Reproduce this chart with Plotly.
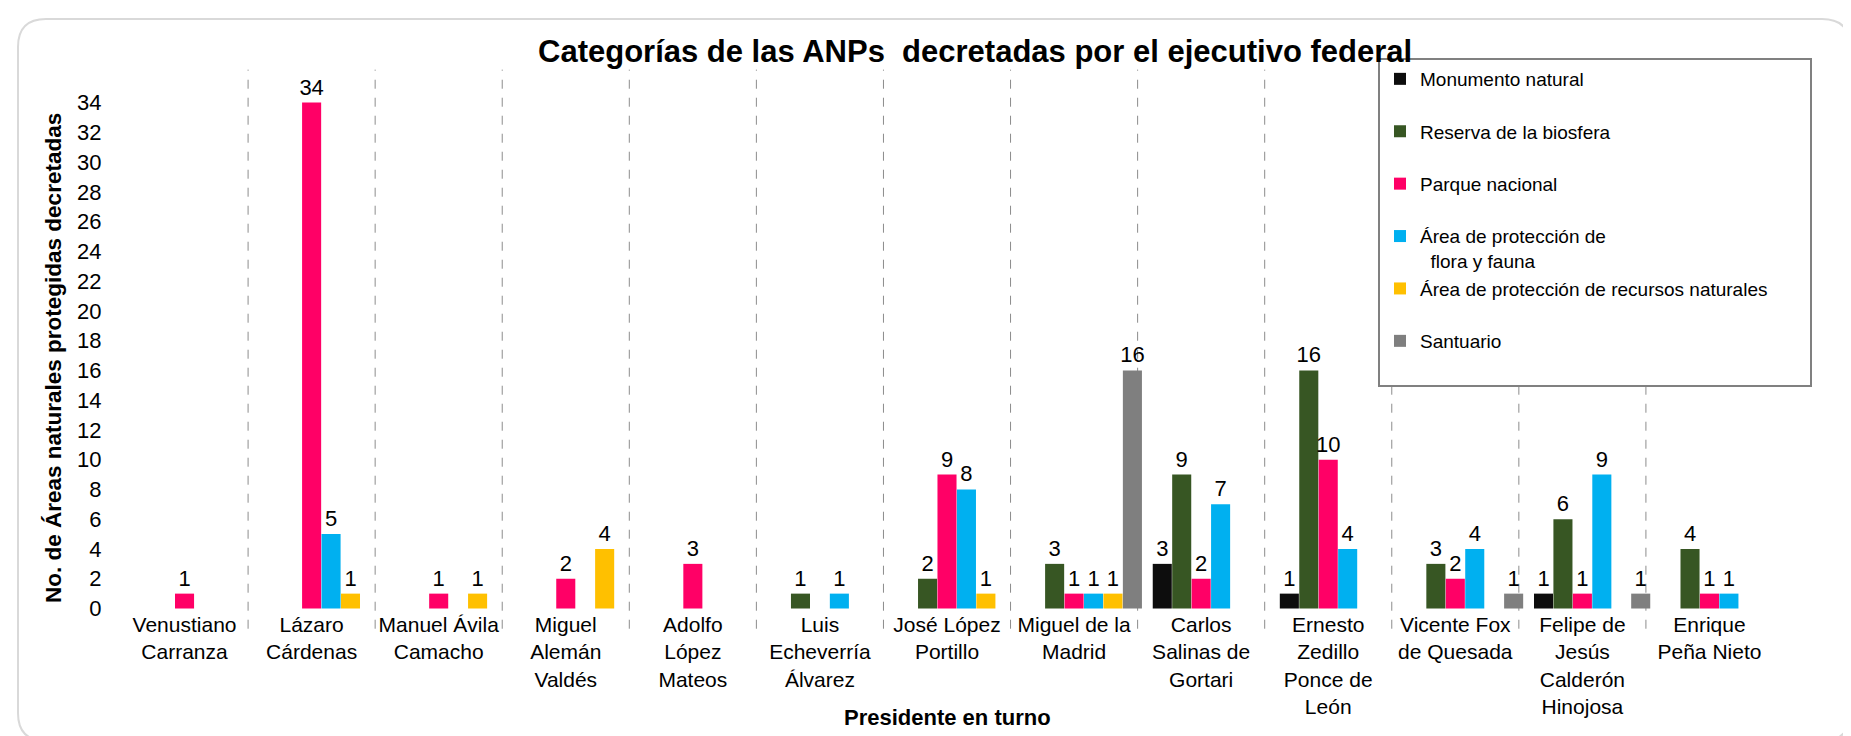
import re
import plotly.graph_objects as go

presidentes = [
    "Venustiano<br>Carranza",
    "Lázaro<br>Cárdenas",
    "Manuel Ávila<br>Camacho",
    "Miguel<br>Alemán<br>Valdés",
    "Adolfo<br>López<br>Mateos",
    "Luis<br>Echeverría<br>Álvarez",
    "José López<br>Portillo",
    "Miguel de la<br>Madrid",
    "Carlos<br>Salinas de<br>Gortari",
    "Ernesto<br>Zedillo<br>Ponce de<br>León",
    "Vicente Fox<br>de Quesada",
    "Felipe de<br>Jesús<br>Calderón<br>Hinojosa",
    "Enrique<br>Peña Nieto",
]

monumento_natural = [None, None, None, None, None, None, None, None, 3, 1, None, 1, None]
reserva_biosfera = [None, None, None, None, None, 1, 2, 3, 9, 16, 3, 6, 4]
parque_nacional = [1, 34, 1, 2, 3, None, 9, 1, 2, 10, 2, 1, 1]
flora_fauna = [None, 5, None, None, None, 1, 8, 1, 7, 4, 4, 9, 1]
recursos_naturales = [None, 1, 1, 4, None, None, 1, 1, None, None, None, None, None]
santuario = [None, None, None, None, None, None, None, 16, None, None, 1, 1, None]

PAD = "\u00a0" * 7
series_names = [
    "Monumento natural<br> ",
    "Reserva de la biosfera<br> ",
    "Parque nacional<br> ",
    "Área de protección de<br>  flora y fauna",
    "Área de protección de recursos naturales" + PAD + "<br> ",
    "Santuario<br> ",
]
series_values = [monumento_natural, reserva_biosfera, parque_nacional,
                 flora_fauna, recursos_naturales, santuario]
colors = ["#0D0D0D", "#375623", "#FF0066", "#00B0F0", "#FFC000", "#7F7F7F"]
slots = [-2, -1, 0, 1, 2, 3]

FONT = "Liberation Sans, Arial, sans-serif"
unit = 0.153
bw = 0.15

W, H = 1851, 736
ml, mr, mt, mb = 113, 86, 67, 134
pw, ph = W - ml - mr, H - mt - mb


def px_to_paper_x(px):
    return (px - ml) / pw


def px_to_paper_y(py):
    return (H - mb - py) / ph


fig = go.Figure()
for name, vals, col, k in zip(series_names, series_values, colors, slots):
    fig.add_trace(go.Bar(
        x=presidentes, y=vals, name=name,
        marker=dict(color=col, line=dict(width=0)),
        width=bw, offset=k * unit - bw / 2,
        texttemplate="%{y}", textposition="outside", constraintext="none",
        textfont=dict(family=FONT, size=22, color="#000000"),
        cliponaxis=False,
    ))

# dashed separators between presidents
shapes = []
for i in range(len(presidentes) - 1):
    shapes.append(dict(type="line", xref="x", yref="paper", x0=i + 0.5, x1=i + 0.5,
                       y0=-0.035, y1=1.01, layer="below",
                       line=dict(color="#8C8C8C", width=1, dash="dash")))

# chart area rounded border
r = 28
x0, y0, x1, y1 = 10, 11, 1842, 733
path = (f"M{x0+r},{y0} L{x1-r},{y0} Q{x1},{y0} {x1},{y0+r} L{x1},{y1-r} Q{x1},{y1} {x1-r},{y1} "
        f"L{x0+r},{y1} Q{x0},{y1} {x0},{y1-r} L{x0},{y0+r} Q{x0},{y0} {x0+r},{y0} Z")


def conv(m):
    xx, yy = float(m.group(1)), float(m.group(2))
    return f"{px_to_paper_x(xx):.5f},{px_to_paper_y(yy):.5f}"


ppath = re.sub(r"(-?\d+\.?\d*),(-?\d+\.?\d*)", conv, path)
shapes.append(dict(type="path", xref="paper", yref="paper", path=ppath,
                   line=dict(color="#D9D9D9", width=2), layer="below"))

fig.update_layout(
    width=W, height=H,
    margin=dict(l=ml, r=mr, t=mt, b=mb),
    paper_bgcolor="white", plot_bgcolor="white",
    barmode="overlay",
    font=dict(family=FONT, size=21, color="#000000"),
    showlegend=True,
    legend=dict(
        x=px_to_paper_x(1370), y=px_to_paper_y(50), xanchor="left", yanchor="top",
        bgcolor="white", bordercolor="#808080", borderwidth=2,
        font=dict(family=FONT, size=19, color="#000000"),
        valign="top", tracegroupgap=0,
    ),
    xaxis=dict(showgrid=False, showline=False, zeroline=False, ticks="",
               tickfont=dict(family=FONT, size=21), range=[-0.5, 12.5]),
    yaxis=dict(range=[-0.1, 35.85], tickvals=list(range(0, 35, 2)),
               showgrid=False, zeroline=False, showline=False,
               ticks="outside", ticklen=14, tickcolor="rgba(0,0,0,0)",
               tickfont=dict(family=FONT, size=22)),
    shapes=shapes,
    annotations=[
        dict(text="<b>Categorías de las ANPs  decretadas por el ejecutivo federal</b>",
             xref="paper", yref="paper", x=px_to_paper_x(967), y=px_to_paper_y(44),
             xanchor="center", yanchor="middle", showarrow=False,
             font=dict(family=FONT, size=31, color="#000000")),
        dict(text="<b>Presidente en turno</b>",
             xref="paper", yref="paper", x=px_to_paper_x(940), y=px_to_paper_y(709),
             xanchor="center", yanchor="middle", showarrow=False,
             font=dict(family=FONT, size=22, color="#000000")),
        dict(text="<b>No. de Áreas naturales protegidas decretadas</b>",
             xref="paper", yref="paper", x=px_to_paper_x(45), y=px_to_paper_y(350),
             xanchor="center", yanchor="middle", showarrow=False, textangle=-90,
             font=dict(family=FONT, size=22.5, color="#000000")),
    ],
)

fig.write_html("out.html")
